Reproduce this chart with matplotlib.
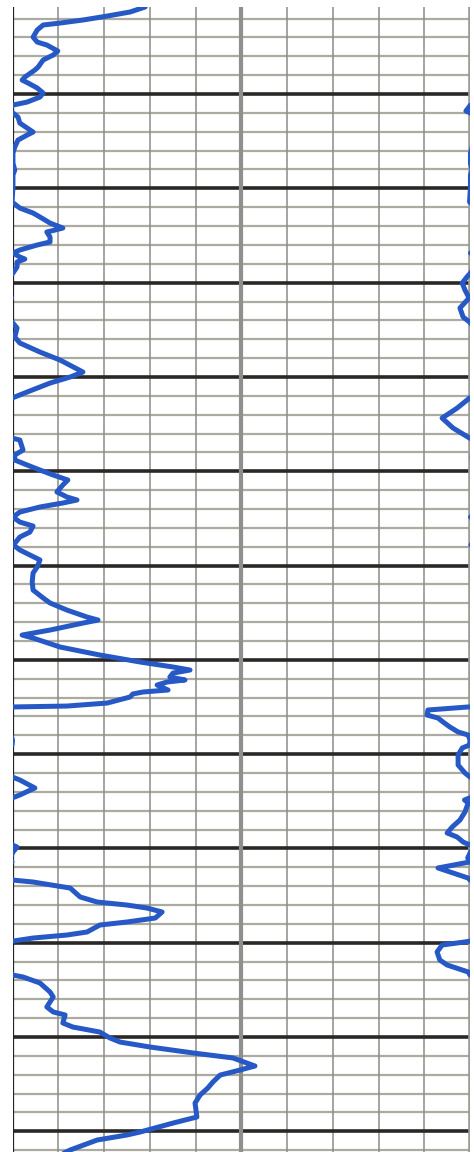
import numpy as np
import matplotlib
matplotlib.use("Agg")
import matplotlib.pyplot as plt

# LOG CURVE (depth in ft, value in chart divisions, left track 0-5, wraps past 0)

depth = [0.77, 1.30, 1.73, 2.15, 2.47, 2.68, 3.21, 3.96, 4.49, 4.80, 5.44, 5.86, 6.39, 7.14, 7.45,
         8.20, 8.52, 8.83, 9.36, 9.89, 10.32, 10.85, 11.17, 11.80, 12.01, 12.44, 13.08, 13.61, 14.03,
         14.35, 14.88, 15.62, 16.26, 17.32, 18.06, 18.59, 19.86, 20.71, 21.45, 22.09, 22.62, 23.04,
         23.68, 24.21, 24.42, 24.63, 25.16, 25.69, 26.01, 26.54, 26.86, 27.28, 27.50, 27.81, 28.34,
         28.98, 29.41, 30.04, 30.78, 31.63, 32.69, 33.65, 34.18, 34.81, 35.77, 36.40, 37.36, 38.21,
         39.48, 40.01, 40.65, 41.60, 42.24, 43.30, 44.36, 45.42, 46.48, 46.69, 47.75, 48.28, 48.81,
         49.34, 49.87, 50.40, 50.93, 51.46, 52.20, 52.73, 53.05, 53.37, 53.79, 54.33, 54.86, 55.39,
         55.81, 56.45, 56.98, 57.82, 58.35, 58.88, 59.41, 60.16, 60.79, 61.75, 62.60, 63.44, 63.97,
         64.72, 65.46, 65.78, 66.10, 66.84, 67.37, 67.69, 68.64, 69.49, 70.23, 70.76, 71.08, 71.40,
         71.82, 72.14, 72.35, 72.67, 73.20, 73.41, 73.62, 73.94, 74.58, 74.90, 75.00, 75.32, 75.85,
         76.17, 76.59, 77.12, 77.65, 77.97, 78.50, 79.03, 79.35, 80.09, 81.15, 82.00, 82.43, 82.74,
         83.59, 84.33, 84.86, 85.18, 86.13, 86.99, 87.73, 88.36, 88.79, 89.32, 89.64, 89.85, 90.38,
         91.01, 91.44, 92.07, 92.60, 93.14, 93.35, 93.56, 94.20, 95.15, 95.68, 96.00, 96.32, 96.74,
         97.38, 97.80, 98.12, 98.86, 99.18, 99.50, 99.92, 100.24, 100.98, 101.83, 102.36, 103.10,
         103.42, 103.63, 104.27, 105.22, 105.75, 106.81, 107.34, 107.66, 108.51, 108.94, 109.47,
         110.10, 110.53, 111.06, 111.69, 112.22, 113.07, 113.50, 114.03, 114.77, 115.40, 116.15,
         117.00, 118.48, 119.12, 120.07, 120.39, 120.92, 121.98, 122.50]

value = [2.90, 2.57, 2.07, 1.54, 1.04, 0.67, 0.54, 0.45, 0.54, 0.75, 0.99, 0.89, 0.67, 0.56, 0.49,
         0.27, 0.21, 0.34, 0.54, 0.67, 0.60, 0.32, 0.01, -0.09, 0.01, 0.12, 0.16, 0.32, 0.45,
         0.32, 0.12, 0.05, 0.01, 0.01, 0.05, 0.01, 0.01, 0.00, -0.01, 0.16, 0.45, 0.60,
         0.82, 1.10, 0.93, 0.75, 0.82, 0.82, 0.54, 0.16, 0.01, 0.16, 0.27, 0.10, 0.10,
         0.01, -0.07, -0.17, -0.11, -0.02, -0.22, -0.15, -0.01, 0.10, 0.05, 0.16, 0.60, 1.04,
         1.54, 1.26, 0.82, 0.32, -0.01, -0.28, -0.61, -0.37, -0.01, 0.16, 0.23, 0.05, 0.05,
         0.32, 0.60, 0.89, 1.21, 1.10, 0.97, 1.19, 1.41, 1.10, 0.60, 0.16, 0.01, 0.16,
         0.45, 0.38, 0.16, 0.02, 0.16, 0.38, 0.60, 0.54, 0.45, 0.43, 0.45, 0.67, 0.82,
         1.19, 1.63, 1.87, 1.54, 0.82, 0.21, 0.45, 1.04, 1.91, 2.79, 3.51, 3.88, 3.51,
         3.44, 3.77, 3.38, 3.16, 3.40, 2.85, 2.63, 2.57, 2.07, 1.19, -0.05, -0.92, -0.94,
         -0.70, -0.59, -0.44, -0.26, -0.04, 0.00, -0.01, -0.17, -0.26, -0.26, -0.11, 0.00, 0.16,
         0.49, 0.16, -0.12, -0.04, -0.11, -0.22, -0.39, -0.50, -0.28, -0.15, 0.00, 0.10, 0.01,
         -0.05, -0.01, -0.70, -0.37, -0.04, 0.00, 0.45, 1.26, 1.48, 1.85, 2.50, 2.94, 3.27,
         3.12, 2.50, 1.91, 1.63, 1.19, 0.45, -0.12, -0.61, -0.72, -0.66, -0.50, -0.04,
         0.00, 0.23, 0.60, 0.82, 0.89, 0.75, 0.89, 1.15, 1.10, 1.32, 1.91,
         2.13, 2.35, 3.01, 3.95, 4.82, 5.30, 4.97, 4.54, 4.38, 4.27, 4.10,
         3.99, 4.03, 3.51, 2.79, 2.50, 1.85, 1.26, 1.04]

depth = np.array(depth)
value = np.array(value)

top_depth = 0.77
bottom_depth = 122.19

fig = plt.figure(figsize=(4.74, 11.52), dpi=100)
ax = fig.add_axes([12.5 / 474, 0.0, (470 - 12.5) / 474, 1 - 7 / 1152])

# grid
for d in np.arange(2, 124, 2):
    if d % 10 == 0:
        ax.axhline(d, color="#2a2826", lw=2.6, zorder=2)
    else:
        ax.axhline(d, color="#ababa2", lw=1.6, zorder=1)

for x in range(1, 10):
    if x == 5:
        ax.axvline(x, color="#8f8f8b", lw=3.0, zorder=3)
    else:
        ax.axvline(x, color="#8c8c88", lw=1.1, zorder=1)
ax.axvline(0, color="#222222", lw=1.6, zorder=3)
ax.axvline(10, color="#9a9a96", lw=2.6, zorder=3)

# curve + wrapped backup
blue = "#2659c6"
ax.plot(value, depth, color=blue, lw=3.6, solid_joinstyle="round", solid_capstyle="round", zorder=4)
ax.plot(value + 10, depth, color=blue, lw=3.6, solid_joinstyle="round", solid_capstyle="round", zorder=4)

ax.set_xlim(0, 10)
ax.set_ylim(bottom_depth, top_depth)
ax.set_xticks([])
ax.set_yticks([])
for s in ax.spines.values():
    s.set_visible(False)

fig.savefig("out.png", dpi=100)
